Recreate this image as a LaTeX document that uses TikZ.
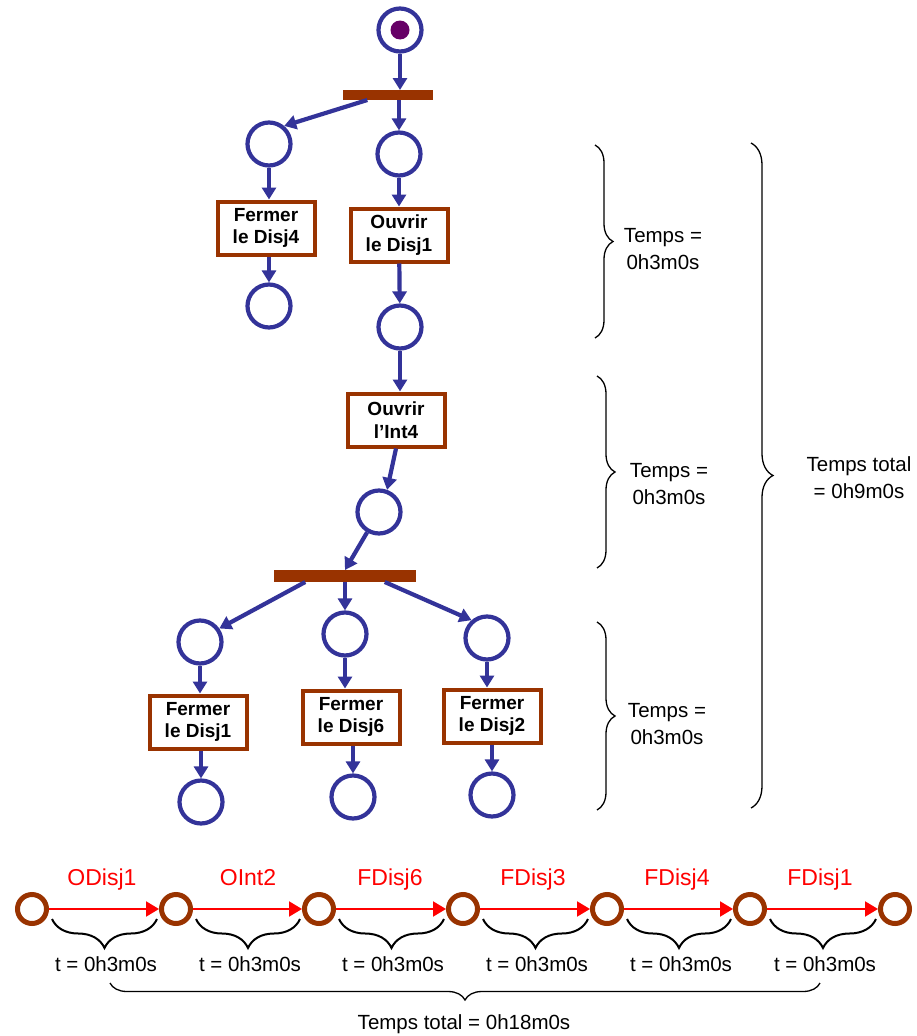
\documentclass[tikz,border=0pt]{standalone}
\usepackage{fontspec}
\setmainfont{Liberation Sans}
\usetikzlibrary{arrows.meta,decorations.pathreplacing,calc}
\definecolor{pnblue}{HTML}{333399}
\definecolor{pnbrown}{HTML}{993300}
\definecolor{pntoken}{HTML}{660066}
\definecolor{pnred}{HTML}{FF0000}
\begin{document}
\begin{tikzpicture}[x=1pt,y=-1pt,
  place/.style={circle, draw=pnblue, line width=4.2pt, minimum size=43pt, inner sep=0pt, fill=white},
  token/.style={circle, fill=pntoken, minimum size=19pt, inner sep=0pt},
  bar/.style={fill=pnbrown, inner sep=0pt, outer sep=0pt},
  trans/.style={draw=pnbrown, line width=4pt, fill=white, minimum width=97pt, minimum height=53pt, inner sep=0pt, align=center, font=\fontsize{19}{22.5}\selectfont\bfseries},
  arc/.style={draw=pnblue, line width=4.2pt, -{Triangle[length=12pt,width=14pt]}},
  state/.style={circle, draw=pnbrown, line width=5pt, minimum size=29pt, inner sep=0pt},
  evt/.style={draw=pnred, line width=2pt, -{Triangle[length=13pt,width=15pt]}},
  evtlbl/.style={text=pnred, font=\fontsize{23}{27}\selectfont, anchor=base, inner sep=0pt},
  lbl/.style={font=\fontsize{20.5}{27}\selectfont, align=center, inner sep=0pt},
  tlbl/.style={font=\fontsize{20.5}{24}\selectfont, anchor=base, inner sep=0pt},
  brc/.style={decorate, draw=black, line width=1.3pt, decoration={brace, amplitude=#1}},
]
\useasboundingbox (0,0) rectangle (916,1036);
\fill[white] (0,0) rectangle (916,1036);

% Petri net
\node[place] (p0) at (400,30) {};
\node[token] (tok) at (p0) {};
\node[bar, minimum width=90pt, minimum height=10pt] (bar1) at (388,95) {};
\node[place] (p1) at (269,144) {};
\node[place] (p2) at (399,154) {};
\node[trans] (t1) at (266,228) {Fermer\\le Disj4};
\node[trans] (t2) at (399,235) {Ouvrir\\le Disj1};
\node[place] (p3) at (269,306) {};
\node[place] (p4) at (400,327) {};
\node[trans] (t3) at (396,420) {Ouvrir\\l’Int4};
\node[place] (p5) at (379,512) {};
\node[bar, minimum width=142pt, minimum height=12pt] (bar2) at (345,576) {};
\node[place] (p6) at (200,642) {};
\node[place] (p7) at (345,634) {};
\node[place] (p8) at (487,638) {};
\node[trans] (t4) at (198,722) {Fermer\\le Disj1};
\node[trans] (t5) at (351,717) {Fermer\\le Disj6};
\node[trans] (t6) at (492,716) {Fermer\\le Disj2};
\node[place] (p9) at (201,802) {};
\node[place] (p10) at (353,797) {};
\node[place] (p11) at (492,795) {};

\draw[arc] (p0) -- (p0 |- bar1.north);
\draw[arc] ($(bar1.south west)!0.27!(bar1.south east)$) -- (p1.50);
\draw[arc] (p2 |- bar1.south) -- (p2);
\draw[arc] (p1) -- (p1 |- t1.north);
\draw[arc] (p3 |- t1.south) -- (p3);
\draw[arc] (p2) -- (t2);
\draw[arc] (t2) -- (p4);
\draw[arc] (p4) -- (p4 |- t3.north);
\draw[arc] (t3.south) -- (p5.70);
\draw[arc] (p5) -- (bar2.north);
\draw[arc] ($(bar2.south west)!0.22!(bar2.south east)$) -- (p6.35);
\draw[arc] (bar2.south) -- (p7);
\draw[arc] ($(bar2.south west)!0.78!(bar2.south east)$) -- (p8.131);
\draw[arc] (p6) -- (p6 |- t4.north);
\draw[arc] (p9 |- t4.south) -- (p9);
\draw[arc] (p7) -- (p7 |- t5.north);
\draw[arc] (p10 |- t5.south) -- (p10);
\draw[arc] (p8) -- (p8 |- t6.north);
\draw[arc] (p11 |- t6.south) -- (p11);

% right braces
\draw[brc=18pt] (595,145) -- (595,338);
\draw[brc=18pt] (597,376) -- (597,568);
\draw[brc=18pt] (597,622) -- (597,810);
\draw[brc=22pt] (751,143) -- (751,808);
\node[lbl] (L1) at (663,249) {Temps =\\0h3m0s};
\node[lbl] (L2) at (669,484) {Temps =\\0h3m0s};
\node[lbl] (L3) at (667,724) {Temps =\\0h3m0s};
\node[lbl] (L4) at (859,478) {Temps total\\= 0h9m0s};

% timeline
\foreach \i/\x in {1/32,2/176,3/319,4/463,5/607,6/750,7/895}
  \node[state] (q\i) at (\x,909) {};
\foreach \i/\j in {1/2,2/3,3/4,4/5,5/6,6/7} {
  \draw[evt] (q\i) -- (q\j);
  \draw[brc=29pt, line width=2pt] ($(q\j.center)+(-19,10)$) -- ($(q\i.center)+(20,10)$);
}
\node[evtlbl] (e1) at (102,885) {ODisj1};
\node[evtlbl] (e2) at (248,885) {OInt2};
\node[evtlbl] (e3) at (390,885) {FDisj6};
\node[evtlbl] (e4) at (533,885) {FDisj3};
\node[evtlbl] (e5) at (677,885) {FDisj4};
\node[evtlbl] (e6) at (820,885) {FDisj1};
\foreach \k/\x in {1/106,2/250,3/393,4/537,5/681,6/825}
  \node[tlbl] (d\k) at (\x,971) {t = 0h3m0s};
\draw[brc=17pt] (820,983) -- (110,983);
\node[tlbl] (tot) at (464,1029) {Temps total = 0h18m0s};
\end{tikzpicture}
\end{document}
